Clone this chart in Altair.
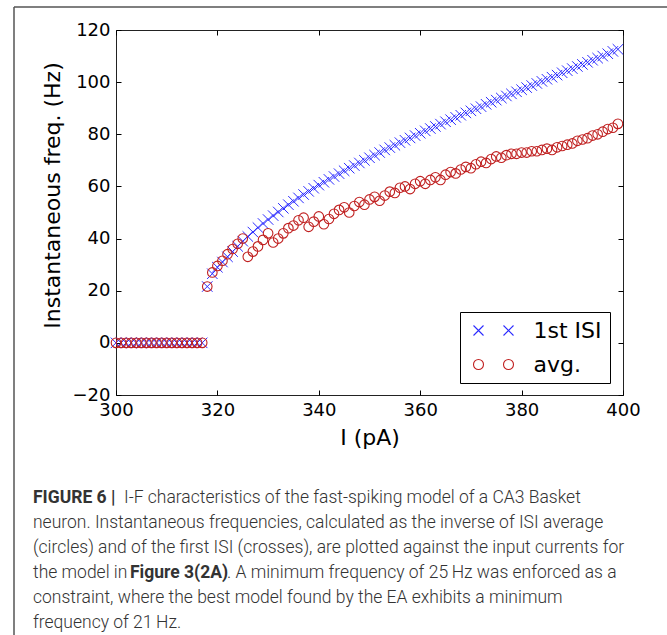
import altair as alt
import pandas as pd

# ---------------- data ----------------
current = [
    300, 301, 302, 303, 304, 305, 306, 307, 308, 309,
    310, 311, 312, 313, 314, 315, 316, 317, 318, 319,
    320, 321, 322, 323, 324, 325, 326, 327, 328, 329,
    330, 331, 332, 333, 334, 335, 336, 337, 338, 339,
    340, 341, 342, 343, 344, 345, 346, 347, 348, 349,
    350, 351, 352, 353, 354, 355, 356, 357, 358, 359,
    360, 361, 362, 363, 364, 365, 366, 367, 368, 369,
    370, 371, 372, 373, 374, 375, 376, 377, 378, 379,
    380, 381, 382, 383, 384, 385, 386, 387, 388, 389,
    390, 391, 392, 393, 394, 395, 396, 397, 398, 399,
]
first_isi = [
    0, 0, 0, 0, 0, 0, 0, 0, 0, 0,
    0, 0, 0, 0, 0, 0, 0, 0, 21.6, 26.5,
    29.0, 31.0, 33.0, 35.0, 37.0, 39.0, 40.8, 42.5, 44.2, 45.8,
    47.3, 48.8, 50.2, 51.6, 53.0, 54.3, 55.6, 56.9, 58.1, 59.3,
    60.5, 61.6, 62.7, 63.8, 64.9, 66.0, 67.0, 68.0, 69.0, 70.0,
    71.0, 72.0, 73.0, 74.0, 74.9, 75.8, 76.8, 77.7, 78.6, 79.5,
    80.4, 81.3, 82.2, 83.0, 83.9, 84.8, 85.6, 86.5, 87.3, 88.2,
    89.0, 89.8, 90.6, 91.5, 92.3, 93.1, 93.9, 94.7, 95.5, 96.3,
    97.1, 97.9, 98.7, 99.5, 100.3, 101.1, 101.9, 102.7, 103.6, 104.4,
    105.2, 106.0, 106.8, 107.6, 108.4, 109.2, 110.0, 110.9, 111.8, 112.6,
]
avg_isi = [
    0, 0, 0, 0, 0, 0, 0, 0, 0, 0,
    0, 0, 0, 0, 0, 0, 0, 0, 21.6, 27.0,
    29.5, 31.5, 34.0, 36.0, 38.0, 40.0, 33.0, 35.0, 37.0, 39.5,
    42.0, 38.5, 40.0, 42.0, 44.0, 45.0, 47.0, 48.0, 44.5, 46.5,
    48.5, 45.5, 47.5, 49.5, 51.0, 52.0, 50.0, 52.5, 54.0, 53.0,
    55.0, 56.0, 54.5, 56.5, 58.0, 57.5, 59.5, 60.0, 59.0, 61.0,
    62.0, 61.0, 62.5, 63.5, 62.5, 64.5, 65.5, 65.0, 66.5, 67.5,
    67.0, 68.5, 69.5, 69.0, 70.5, 71.5, 71.0, 72.0, 72.5, 72.5,
    73.0, 73.0, 73.5, 73.5, 74.0, 74.5, 74.0, 75.0, 75.5, 76.0,
    76.5, 77.5, 78.0, 78.5, 79.5, 80.0, 81.0, 82.0, 82.5, 84.0,
]
series = ["1st ISI", "avg."]
x_ticks = [300, 320, 340, 360, 380, 400]
y_ticks = [-20, 0, 20, 40, 60, 80, 100, 120]

caption_lines = [
    [("FIGURE 6 |", "bold"), ("I-F characteristics of the fast-spiking model of a CA3 Basket", "normal")],
    [("neuron. Instantaneous frequencies, calculated as the inverse of ISI average", "normal")],
    [("(circles) and of the first ISI (crosses), are plotted against the input currents for", "normal")],
    [("the model in ", "normal"), ("Figure 3(2A)", "bold"), (". A minimum frequency of 25\u2009Hz was enforced as a", "normal")],
    [("constraint, where the best model found by the EA exhibits a minimum", "normal")],
    [("frequency of 21\u2009Hz.", "normal")],
]

# ---------------- styling ----------------
F = "DejaVu Sans"
BLUE = "#2b2bff"
RED = "#c02020"
W, H = 507, 365
X_PATH = "M-1,-1L1,1M-1,1L1,-1"
XX_PATH = "M-1,-1L1,1M-1,1L1,-1M5,-1L7,1M5,1L7,-1"
OO_PATH = ("M1,0A1,1,0,1,1,-1,0A1,1,0,1,1,1,0Z"
           "M7,0A1,1,0,1,1,5,0A1,1,0,1,1,7,0Z")

df = pd.DataFrame({"I": current, "first": first_isi, "avg": avg_isi})
one = pd.DataFrame({"k": [0]})
leg_df = pd.DataFrame({"series": series})

xscale = alt.Scale(domain=[300, 400], nice=False, zero=False)
yscale = alt.Scale(domain=[-20, 120], nice=False, zero=False)

tick_common = dict(offset=-5, domain=False, tickSize=5, tickColor="black",
                   tickWidth=1, grid=False)

x_bottom = alt.Axis(orient="bottom", values=x_ticks, labelFont=F, labelFontSize=18,
                    labelColor="black", labelPadding=6, labelFlush=False,
                    labelOverlap=False, title="I (pA)", titleFont=F,
                    titleFontSize=22, titleFontWeight="normal", titleColor="black",
                    titlePadding=8, **tick_common)
y_left = alt.Axis(orient="left", values=y_ticks, labelFont=F, labelFontSize=18,
                  labelColor="black", labelPadding=6, labelFlush=False,
                  labelOverlap=False, title="Instantaneous freq. (Hz)", titleFont=F,
                  titleFontSize=22, titleFontWeight="normal", titleColor="black",
                  titlePadding=8, titleY=165, **tick_common)
x_top = alt.Axis(orient="top", values=x_ticks, labels=False, title=None, **tick_common)
y_right = alt.Axis(orient="right", values=y_ticks, labels=False, title=None, **tick_common)

crosses = alt.Chart(df).mark_point(
    shape=X_PATH, filled=False, color=BLUE, strokeWidth=1, size=110, opacity=1
).encode(
    x=alt.X("I:Q", scale=xscale, axis=x_bottom),
    y=alt.Y("first:Q", scale=yscale, axis=y_left),
)

circles = alt.Chart(df).mark_point(
    shape="circle", filled=False, color=RED, strokeWidth=1.1, size=92, opacity=1
).encode(
    x=alt.X("I:Q", scale=xscale, axis=x_top),
    y=alt.Y("avg:Q", scale=yscale, axis=y_right),
)

leg = dict(title=None, orient="none", legendX=344, legendY=282, strokeColor="black",
           fillColor="white", padding=7.5, cornerRadius=0, labelFont=F,
           labelFontSize=22, labelColor="black", symbolSize=100,
           symbolStrokeWidth=1.1, labelOffset=44, rowPadding=12, symbolOffset=0)

legend_layer = alt.Chart(leg_df).mark_point(filled=False, opacity=1).encode(
    color=alt.Color("series:N", scale=alt.Scale(domain=series, range=[BLUE, RED]),
                    legend=alt.Legend(**leg)),
    shape=alt.Shape("series:N", scale=alt.Scale(domain=series, range=[XX_PATH, OO_PATH]),
                    legend=alt.Legend(**leg)),
).transform_filter("false")

# figure frame (left and top edges)
frame_left = alt.Chart(one).mark_rule(color="#555555", strokeWidth=1.5).encode(
    x=alt.value(-102), y=alt.value(-23), y2=alt.value(605))
frame_top = alt.Chart(one).mark_rule(color="#555555", strokeWidth=1.5).encode(
    x=alt.value(-102), x2=alt.value(551), y=alt.value(-23))

# caption
CAP_X = -83
CAP_SIZE = 17.5
seg_x = {(0, 1): 8, (3, 1): 14, (3, 2): 111}
caption_layers = []
for i, segs in enumerate(caption_lines):
    for j, (txt, wt) in enumerate(segs):
        xpos = seg_x.get((i, j), CAP_X)
        caption_layers.append(
            alt.Chart(one).mark_text(
                text=txt, align="left", baseline="alphabetic", font="Roboto",
                fontSize=CAP_SIZE, fontWeight=300 if wt == "normal" else "bold",
                color="#333333",
            ).encode(x=alt.value(xpos), y=alt.value(473 + 25 * i))
        )

chart = alt.layer(
    frame_left, frame_top, crosses, circles, legend_layer, *caption_layers
).properties(
    width=W, height=H,
    autosize=alt.AutoSizeParams(type="none"),
    padding={"left": 116, "top": 30, "right": 44, "bottom": 240},
    background="white",
).configure_view(stroke="#222222", strokeWidth=1)

chart.save("out.html", embed_options={"renderer": "svg", "actions": False})
